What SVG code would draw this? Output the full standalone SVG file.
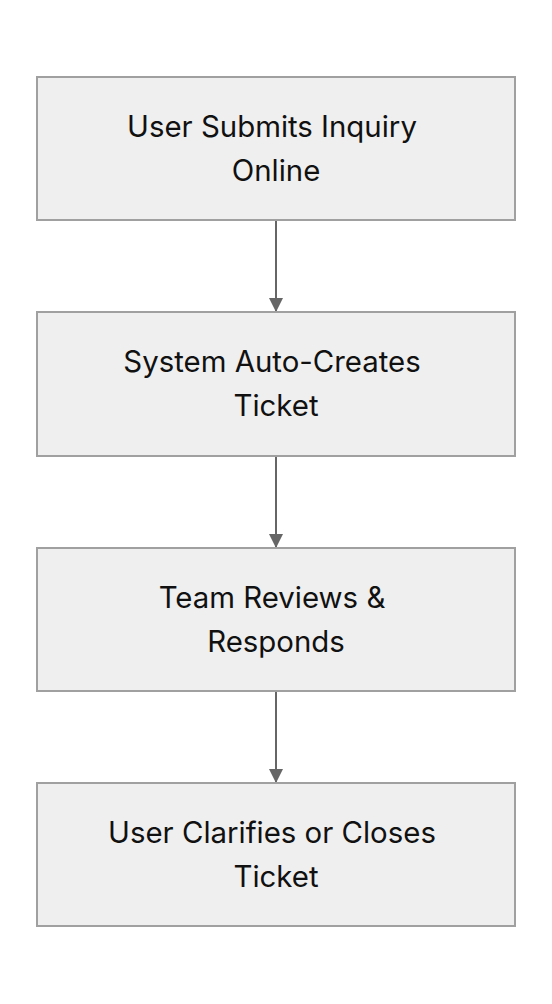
<svg xmlns="http://www.w3.org/2000/svg" width="552" height="1004" viewBox="0 0 552 1004">
<style>
.box{fill:#efefef;stroke:#a0a0a0;stroke-width:2}
.lbl{font-family:Inter,"Noto Sans",sans-serif;font-size:29.4px;fill:#111;text-anchor:middle}
.edge{stroke:#666;stroke-width:2;fill:none}
</style>
<defs>
<marker id="arr" viewBox="0 0 14 14" refX="14" refY="7" markerWidth="14" markerHeight="14" markerUnits="userSpaceOnUse" orient="auto">
<path d="M0,0 L14,7 L0,14 Z" fill="#666"/>
</marker>
</defs>
<rect width="552" height="1004" fill="#fff"/>
<g id="connectors">
<line class="edge" x1="276" y1="221" x2="276" y2="312" marker-end="url(#arr)"/>
<line class="edge" x1="276" y1="457" x2="276" y2="548" marker-end="url(#arr)"/>
<line class="edge" x1="276" y1="692" x2="276" y2="783" marker-end="url(#arr)"/>
</g>
<g id="n1">
<rect class="box" x="37" y="77" width="478" height="143"/>
<text class="lbl" x="272" y="137">User Submits Inquiry</text>
<text class="lbl" x="276" y="181">Online</text>
</g>
<g id="n2">
<rect class="box" x="37" y="312" width="478" height="144"/>
<text class="lbl" x="272" y="372">System Auto-Creates</text>
<text class="lbl" x="276" y="416">Ticket</text>
</g>
<g id="n3">
<rect class="box" x="37" y="548" width="478" height="143"/>
<text class="lbl" x="272" y="608">Team Reviews &amp;</text>
<text class="lbl" x="276" y="652">Responds</text>
</g>
<g id="n4">
<rect class="box" x="37" y="783" width="478" height="143"/>
<text class="lbl" x="272" y="843">User Clarifies or Closes</text>
<text class="lbl" x="276" y="887">Ticket</text>
</g>
</svg>
